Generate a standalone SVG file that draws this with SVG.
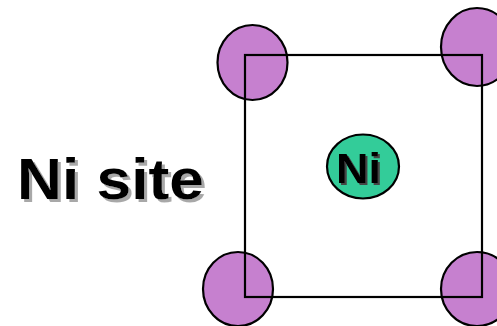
<svg xmlns="http://www.w3.org/2000/svg" width="497" height="326" viewBox="0 0 497 326">
<defs>
<filter id="shadow" x="-10%" y="-10%" width="130%" height="140%">
<feOffset in="SourceAlpha" dx="3" dy="3" result="off"/>
<feFlood flood-color="#a8a8a8"/>
<feComposite in2="off" operator="in" result="sh"/>
<feMerge><feMergeNode in="sh"/><feMergeNode in="SourceGraphic"/></feMerge>
</filter>
<filter id="shadow2" x="-10%" y="-10%" width="130%" height="140%">
<feOffset in="SourceAlpha" dx="2" dy="2" result="off"/>
<feFlood flood-color="#444"/>
<feComposite in2="off" operator="in" result="sh"/>
<feMerge><feMergeNode in="sh"/><feMergeNode in="SourceGraphic"/></feMerge>
</filter>
</defs>
<style>
.corner{fill:#C680CF;stroke:#000;stroke-width:2.2}
.ni{fill:#33CC99;stroke:#000;stroke-width:2.2}
.lbl{font-family:"Liberation Sans",Arial,sans-serif;font-weight:bold}
</style>
<rect width="497" height="326" fill="#fff"/>
<g id="label">
<text class="lbl" x="17" y="199" font-size="58" fill="#000" textLength="187" lengthAdjust="spacingAndGlyphs" filter="url(#shadow)">Ni site</text>
</g>
<g id="corner-tl"><ellipse class="corner" cx="252.5" cy="62.5" rx="35" ry="37.5"/></g>
<g id="corner-tr"><ellipse class="corner" cx="477" cy="47" rx="36" ry="39"/></g>
<g id="corner-bl"><ellipse class="corner" cx="238" cy="289" rx="35" ry="37"/></g>
<g id="corner-br"><ellipse class="corner" cx="477" cy="289" rx="36" ry="37"/></g>
<g id="connectors"><rect x="245" y="55" width="237" height="242" fill="none" stroke="#000" stroke-width="2.2"/></g>
<g id="ni-center">
<ellipse class="ni" cx="363" cy="166.5" rx="36" ry="32"/>
<text class="lbl" x="336" y="183" font-size="42" fill="#000" textLength="45" lengthAdjust="spacingAndGlyphs" filter="url(#shadow2)">Ni</text>
</g>
</svg>
